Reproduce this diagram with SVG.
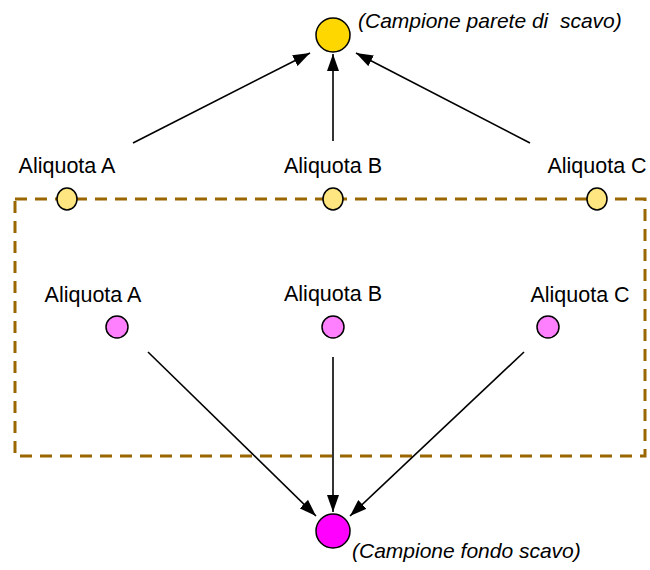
<svg xmlns="http://www.w3.org/2000/svg" width="650" height="570" viewBox="0 0 650 570">
<style>
.lbl{font-family:"Liberation Sans",Arial,sans-serif;font-size:21.5px;fill:#000;text-anchor:middle}
.cap{font-family:"Liberation Sans",Arial,sans-serif;font-size:21px;font-style:italic;fill:#000;white-space:pre}
.yel{fill:#ffe680;stroke:#000;stroke-width:1.5}
.pink{fill:#ff80ff;stroke:#000;stroke-width:1.5}
.edge{stroke:#000;stroke-width:1.6;fill:none;marker-end:url(#ah)}
</style>
<defs>
<marker id="ah" viewBox="0 0 17 12" refX="17" refY="6" markerWidth="17" markerHeight="12" markerUnits="userSpaceOnUse" orient="auto">
<path d="M0,0 L17,6 L0,12 Z" fill="#000"/>
</marker>
</defs>
<g id="box">
<rect x="15" y="199" width="630" height="257" fill="none" stroke="#996600" stroke-width="3" stroke-dasharray="12,8"/>
</g>
<g id="connectors">
<line class="edge" x1="133" y1="143" x2="310" y2="53"/>
<line class="edge" x1="333" y1="141" x2="333" y2="54"/>
<line class="edge" x1="530" y1="143" x2="356" y2="53"/>
<line class="edge" x1="148" y1="352" x2="316" y2="516"/>
<line class="edge" x1="333" y1="357" x2="333" y2="512"/>
<line class="edge" x1="524" y1="352" x2="350" y2="516"/>
</g>
<g id="top">
<circle cx="333" cy="35" r="17" fill="#ffd700" stroke="#000" stroke-width="1.5"/>
<text class="cap" x="358" y="28" xml:space="preserve">(Campione parete di  scavo)</text>
</g>
<g id="wallA"><ellipse class="yel" cx="67" cy="199" rx="10" ry="11"/><text class="lbl" x="67" y="173">Aliquota A</text></g>
<g id="wallB"><ellipse class="yel" cx="333" cy="199" rx="10" ry="11"/><text class="lbl" x="333" y="173">Aliquota B</text></g>
<g id="wallC"><ellipse class="yel" cx="597" cy="199" rx="10" ry="11"/><text class="lbl" x="597" y="173">Aliquota C</text></g>
<g id="floorA"><circle class="pink" cx="117" cy="327" r="11"/><text class="lbl" x="93" y="302">Aliquota A</text></g>
<g id="floorB"><circle class="pink" cx="333" cy="327" r="11"/><text class="lbl" x="333" y="301">Aliquota B</text></g>
<g id="floorC"><circle class="pink" cx="548" cy="327" r="11"/><text class="lbl" x="580" y="302">Aliquota C</text></g>
<g id="bottom">
<circle cx="333" cy="531" r="17" fill="#ff00ff" stroke="#000" stroke-width="1.5"/>
<text class="cap" x="352" y="558">(Campione fondo scavo)</text>
</g>
</svg>
